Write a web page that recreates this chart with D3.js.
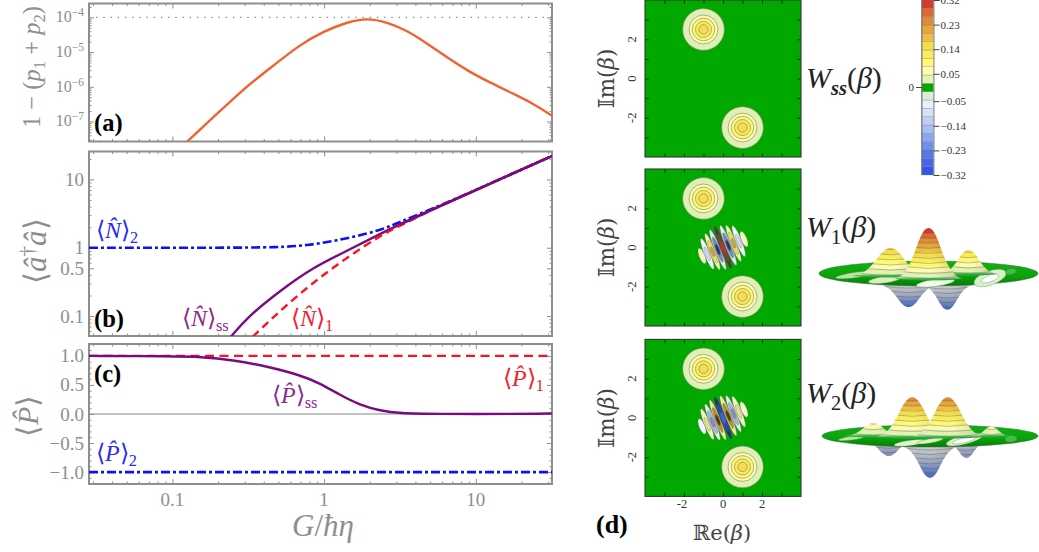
<!DOCTYPE html>
<html><head><meta charset="utf-8">
<script src="https://cdn.jsdelivr.net/npm/d3@7/dist/d3.min.js"></script>
<style>
html,body{margin:0;padding:0;background:#fff}
svg{display:block}
text{font-family:"Liberation Serif",serif}
</style></head><body>
<svg id="c" width="1039" height="552"></svg>
<script>
// ---------- data ----------
const aG=[0.125,0.191,0.297,0.421,0.695,0.985,1.418,1.92,2.60,3.52,4.78,6.47,8.77,12.4,17.6,23.9,31.8];
const aV=[2.6e-8,1.47e-7,8.9e-7,2.94e-6,1.66e-5,3.9e-5,7.3e-5,9.6e-5,7.3e-5,4.2e-5,1.77e-5,6.98e-6,2.94e-6,1.32e-6,6.35e-7,3.27e-7,1.47e-7];
const bSsG=[0.244,0.311,0.513,0.846,1.418,2.34,3.17,5,10,31.8];
const bSsV=[0.0502,0.096,0.2356,0.516,0.9,1.6,2.2,3.5,7,22];
const b1G=[0.34,0.513,0.846,1.418,2.34,3.17,5,10,31.8];
const b1V=[0.0502,0.12,0.311,0.722,1.5,2.1,3.5,7,22];
const b2G=[0.0282,0.2,0.513,0.772,1.15,2.34,3.17,5,10,31.8];
const b2V=[1,1,1.01,1.09,1.236,1.77,2.4,3.6,7,22];
const cSsG=[0.0282,0.1,0.152,0.251,0.421,0.695,0.94,1.275,1.726,2.34,3.17,5.23,20,31.8];
const cSsV=[1,0.995,0.985,0.93,0.82,0.67,0.53,0.327,0.155,0.056,0.012,0,0,0.01];
const xMajor=[0.1,1,10];
const xMinor=[0.03,0.04,0.05,0.06,0.07,0.08,0.09,0.2,0.3,0.4,0.5,0.6,0.7,0.8,0.9,2,3,4,5,6,7,8,9,20,30];
const aMajor=[1e-7,1e-6,1e-5,1e-4];
const aExp=["−7","−6","−5","−4"];
const aMinor=[3e-8,4e-8,5e-8,6e-8,7e-8,8e-8,9e-8,2e-7,3e-7,4e-7,5e-7,6e-7,7e-7,8e-7,9e-7,2e-6,3e-6,4e-6,5e-6,6e-6,7e-6,8e-6,9e-6,2e-5,3e-5,4e-5,5e-5,6e-5,7e-5,8e-5,9e-5,2e-4];
const bMajor=[0.1,0.5,1,10];
const bMinor=[0.06,0.07,0.08,0.09,0.2,0.3,0.4,0.6,0.7,0.8,0.9,2,3,4,5,6,7,8,9,20];
const cMajor=[-1,-0.5,0,0.5,1];
const cMinor=[-1.2,-1.1,-0.9,-0.8,-0.7,-0.6,-0.4,-0.3,-0.2,-0.1,0.1,0.2,0.3,0.4,0.6,0.7,0.8,0.9,1.1,1.2];
const cbColors=["#3355ee","#4468e8","#5578e8","#7090ec","#8ca6f2","#a8bcf5","#c0cdf5","#d8e0f8","#e8eefc","#d8eed8","#00a800","#e3f3b0","#fffcb0","#fefa70","#f9ee5a","#f5dd50","#eec040","#e6a53a","#e08a35","#d96a30","#d63a2a"];
const cbTicks=[-0.32,-0.23,-0.14,-0.05,0.05,0.14,0.23,0.32];
const betaTicks=[-3,-2,-1,0,1,2,3];
const betaLabels=[-2,0,2];
const blobCenters=[[-1,2.5],[1,-2.5]];
const blobRadii=[1.07,0.74,0.58,0.41,0.24];
const blobColors=["#dff0b4","#fffcb4","#fdf87a","#f9ec5c","#f6dc50"];
const stripeIndex=[-4,-3,-2,-1,0,1,2,3,4];
const stripeLen=[0.42,0.85,1.0,1.1,1.17,1.1,1.0,0.85,0.42];
const stripeLayers1=[["#f4f7c0"],["#f4f6ff","#cdd8f4"],["#fdf6b0","#eedd60","#c8a838"],["#e4e9f6","#7088c8","#26346e"],["#4a3c3c","#6e4a20","#d02a1c"],["#e4e9f6","#7088c8","#26346e"],["#fdf6b0","#eedd60","#c8a838"],["#f4f6ff","#cdd8f4"],["#f4f7c0"]];
const stripeLayers2=[["#f4f6ff"],["#f4f6c0","#e8e090"],["#e8edf8","#a4b6e0","#7a90c8"],["#f8e8a0","#b89028","#503818"],["#26346e","#2048b8","#3a66e0"],["#f8e8a0","#b89028","#503818"],["#e8edf8","#a4b6e0","#7a90c8"],["#f4f6c0","#e8e090"],["#f4f6d0"]];
const bellU=[-1,-0.8,-0.6,-0.42,-0.25,-0.1,0,0.1,0.25,0.42,0.6,0.8,1];
const bellH=[0,0.07,0.24,0.5,0.8,0.97,1,0.97,0.8,0.5,0.24,0.07,0];
// [position, value, half width, base depth]
const w1Down=[[-0.73,-0.144,1.13,3.4],[0.69,-0.156,0.95,3.7]];
const w1Up=[[-1.39,0.175,1.39,0.8],[1.46,0.15,1.04,0.16],[0,0.32,1.25,1.8]];
const w2Down=[[-1.53,-0.1,1.0,1.45],[1.35,-0.1,0.75,2.2],[0,-0.2,1.08,3.6]];
const w2Up=[[-2.1,0.08,1.05,0],[2.27,0.06,0.7,0],[-0.66,0.25,1.35,0.4],[0.66,0.25,1.35,0.4]];
// [position, depth, half length, half width, rotation, fill]
const w1Patches=[[2.25,1.45,0.62,0.26,-20,"#d8efc8"],[2.25,1.6,0.33,0.12,-20,"#ffffff"],[3.0,-0.6,0.2,0.11,-10,"#45bd45"],[-2.6,0.4,0.8,0.1,-8,"#b9e5a0"],[-1.6,2,0.6,0.12,-8,"#d9efc0"],[0.25,3,0.7,0.13,-8,"#f2fae8"]];
const w2Patches=[[1.28,1.3,0.7,0.17,-14,"#d8efc8"],[1.28,1.5,0.45,0.09,-14,"#ffffff"],[3,1,0.22,0.12,-5,"#45bd45"],[-0.73,2.5,0.6,0.1,-8,"#e4f4d0"],[-2.9,0.8,0.5,0.07,-8,"#b9e5a0"],[0,1.8,0.5,0.08,-10,"#d9efc0"]];

// ---------- setup ----------
const svg=d3.select("#c");
const defs=svg.append("defs");
const GRAY="#8e8e8e", X0=89, X1=552;
const x=d3.scaleLog().domain([0.0282,31.8]).range([X0,X1]);
const ya=d3.scaleLog().domain([10**-7.578,10**-3.6]).range([141.5,3.5]);
const yb=d3.scaleLog().domain([10**-1.292,10**1.409]).range([336,151.5]);
const yc=d3.scaleLinear().domain([-1.205,1.205]).range([484,344]);

function panel(id,y,major,minor,labels){
  const g=svg.append("g");
  defs.append("clipPath").attr("id",id).append("rect")
    .attr("x",X0).attr("y",y.range()[1]).attr("width",X1-X0).attr("height",y.range()[0]-y.range()[1]);
  const tk=[[d3.axisBottom,x,y.range()[0],0,xMajor,5],[d3.axisBottom,x,y.range()[0],0,xMinor,2.5],
            [d3.axisTop,x,y.range()[1],0,xMajor,5],[d3.axisTop,x,y.range()[1],0,xMinor,2.5],
            [d3.axisLeft,y,0,X0,major,5],[d3.axisLeft,y,0,X0,minor,2.5],
            [d3.axisRight,y,0,X1,major,5],[d3.axisRight,y,0,X1,minor,2.5]];
  tk.forEach(([ax,s,ty,tx,vals,len])=>{
    const a=g.append("g").attr("transform",`translate(${tx},${ty})`)
      .call(ax(s).tickValues(vals).tickSize(-len).tickFormat(""));
    a.select(".domain").remove();
    a.selectAll("line").attr("stroke",GRAY).attr("stroke-width",1);
    a.selectAll("text").remove();
  });
  g.append("rect").attr("x",X0).attr("y",y.range()[1]).attr("width",X1-X0).attr("height",y.range()[0]-y.range()[1])
    .attr("fill","none").attr("stroke",GRAY).attr("stroke-width",2);
  return g;
}
function drawLine(clip,xs,ys,yS,color,w,dash,curve){
  const l=d3.line().x(d=>x(d[0])).y(d=>yS(d[1])).curve(curve||d3.curveBasis);
  svg.append("path").attr("clip-path",`url(#${clip})`).attr("d",l(xs.map((v,i)=>[v,ys[i]])))
    .attr("fill","none").attr("stroke",color).attr("stroke-width",w).attr("stroke-dasharray",dash||null);
}
function label(px,py,size,color,parts,rot,anchor){
  const t=svg.append("text").attr("x",px).attr("y",py).attr("font-size",size).attr("fill",color)
    .attr("text-anchor",anchor||"start");
  if(rot) t.attr("transform",`rotate(${rot} ${px} ${py})`);
  let shift=0;
  parts.forEach(p=>{
    const ts=t.append("tspan").text(p.t);
    if(p.i) ts.attr("font-style","italic");
    if(p.b) ts.attr("font-weight","bold");
    if(p.sub){ts.attr("font-size",size*0.68).attr("dy",(size*0.22)-shift);shift=size*0.22;}
    else if(p.sup){ts.attr("font-size",size*0.68).attr("dy",(-size*0.4)-shift);shift=-size*0.4;}
    else if(shift){ts.attr("dy",-shift);shift=0;}
  });
  return t;
}

// ---------- panel a ----------
svg.append("line").attr("x1",X0).attr("x2",X1).attr("y1",ya(1e-4)).attr("y2",ya(1e-4))
  .attr("stroke","#777").attr("stroke-width",1.2).attr("stroke-dasharray","1.2 6");
panel("ca",ya,aMajor,aMinor);
drawLine("ca",aG,aV,ya,"#f0622f",2.4);
aMajor.forEach((v,i)=>{
  const t=svg.append("text").attr("x",84).attr("y",ya(v)+5).attr("text-anchor","end").attr("font-size",16).attr("fill",GRAY);
  t.append("tspan").text("10");
  t.append("tspan").text(aExp[i]).attr("font-size",11.5).attr("dy",-6);
});
label(40,128,24.5,GRAY,[{t:"1 − ("},{t:"p",i:1},{t:"1",sub:1},{t:" + "},{t:"p",i:1},{t:"2",sub:1},{t:")"}],-90);

// ---------- panel b ----------
panel("cb",yb,bMajor,bMinor);
drawLine("cb",b2G,b2V,yb,"#1010ee",2.6,"9 3 3 3");
drawLine("cb",bSsG,bSsV,yb,"#7a0a82",2.4);
drawLine("cb",b1G,b1V,yb,"#ff1020",2.4,"8 5");
drawLine("cb",bSsG.slice(6),bSsV.slice(6),yb,"#7a0a82",2.4);
[["10",10],["1",1],["0.5",0.5],["0.1",0.1]].forEach(([s,v])=>{
  svg.append("text").attr("x",84).attr("y",yb(v)+6.5).attr("text-anchor","end").attr("font-size",19).attr("fill",GRAY).text(s);
});
label(46,284,31,GRAY,[{t:"⟨"},{t:"a\u0302",i:1},{t:"†",sup:1},{t:"a\u0302",i:1},{t:"⟩"}],-90,"start");

// ---------- panel c ----------
svg.append("line").attr("x1",X0).attr("x2",X1).attr("y1",yc(0)).attr("y2",yc(0)).attr("stroke","#888").attr("stroke-width",1.2);
panel("cc",yc,cMajor,cMinor);
drawLine("cc",[0.0282,31.8],[1,1],yc,"#ff1020",2.4,"9 5.5",d3.curveLinear);
drawLine("cc",[0.0282,31.8],[-1,-1],yc,"#1010ee",2.6,"9 3 3 3",d3.curveLinear);
drawLine("cc",cSsG,cSsV,yc,"#7a0a82",2.4);
cMajor.slice().forEach(v=>{
  svg.append("text").attr("x",84).attr("y",yc(v)+6.5).attr("text-anchor","end").attr("font-size",19).attr("fill",GRAY)
    .text(d3.format(".1f")(v).replace("-","−"));
});
[["0.1",0.1],["1",1],["10",10]].forEach(([s,v])=>{
  svg.append("text").attr("x",x(v)).attr("y",506).attr("text-anchor","middle").attr("font-size",19).attr("fill",GRAY).text(s);
});
label(38,437,30,GRAY,[{t:"⟨"},{t:"P\u0302",i:1},{t:"⟩"}],-90);
label(292,536,31,GRAY,[{t:"G",i:1},{t:"/"},{t:"ħη",i:1}]);

// series labels
const BL="#2a2af0",RD="#f5202e",PU="#8a2a90";
label(96,238,24,BL,[{t:"⟨"},{t:"N\u0302",i:1},{t:"⟩"},{t:"2",sub:1}]);
label(182,326,24,PU,[{t:"⟨"},{t:"N\u0302",i:1},{t:"⟩"},{t:"ss",sub:1}]);
label(291,326,24,RD,[{t:"⟨"},{t:"N\u0302",i:1},{t:"⟩"},{t:"1",sub:1}]);
label(272,403,24,PU,[{t:"⟨"},{t:"P\u0302",i:1},{t:"⟩"},{t:"ss",sub:1}]);
label(503,386,24,RD,[{t:"⟨"},{t:"P\u0302",i:1},{t:"⟩"},{t:"1",sub:1}]);
label(96,461,24,BL,[{t:"⟨"},{t:"P\u0302",i:1},{t:"⟩"},{t:"2",sub:1}]);
[["(a)",94,131],["(b)",94,326.5],["(c)",94,381.5]].forEach(([s,a,b])=>{
  svg.append("text").attr("x",a).attr("y",b).attr("font-size",24.5).attr("font-weight","bold").attr("fill","#000").text(s);
});
svg.append("text").attr("x",596).attr("y",533).attr("font-size",26).attr("font-weight","bold").attr("fill","#000").text("(d)");

// ---------- Wigner contour panels ----------
const bx=d3.scaleLinear().domain([-4,4]).range([645,801]);
function wigner(top,layers,showX){
  const by=d3.scaleLinear().domain([-4,4]).range([top+157,top]);
  const g=svg.append("g");
  const cid="w"+Math.round(top);
  defs.append("clipPath").attr("id",cid).append("rect").attr("x",645).attr("y",top).attr("width",156).attr("height",157);
  g.append("rect").attr("x",645).attr("y",top).attr("width",156).attr("height",157).attr("fill","#00a800");
  const inner=g.append("g").attr("clip-path",`url(#${cid})`);
  blobCenters.forEach(c=>{
    blobRadii.forEach((r,i)=>{
      inner.append("circle").attr("cx",bx(c[0])).attr("cy",by(c[1])).attr("r",bx(r)-bx(0))
        .attr("fill",blobColors[i]).attr("stroke","#7c7c66").attr("stroke-width",0.6);
    });
  });
  const ux=bx(1)-bx(0), ang=21.8, gap=0.29;
  stripeIndex.forEach((k,i)=>{
    const cx=bx(k*gap*0.928), cy=by(k*gap*0.371);
    layers[i].forEach((col,j)=>{
      const n=layers[i].length, f=1-j/n*1.1;
      inner.append("ellipse")
        .attr("transform",`translate(${cx},${cy}) rotate(${-ang})`)
        .attr("rx",ux*0.148*(0.35+0.65*f)).attr("ry",ux*stripeLen[i]*f)
        .attr("fill",col).attr("stroke","#6b6b60").attr("stroke-width",0.3);
    });
  });
  const mk=[[d3.axisBottom,bx,top+157,0],[d3.axisTop,bx,top,0],[d3.axisLeft,by,0,645],[d3.axisRight,by,0,801]];
  mk.forEach(([ax,s,ty,tx])=>{
    const a=g.append("g").attr("transform",`translate(${tx},${ty})`).call(ax(s).tickValues(betaTicks).tickSize(-4).tickFormat(""));
    a.select(".domain").remove();
    a.selectAll("line").attr("stroke","#222").attr("stroke-width",0.8);
    a.selectAll("text").remove();
  });
  g.append("rect").attr("x",645).attr("y",top).attr("width",156).attr("height",157).attr("fill","none").attr("stroke","#333").attr("stroke-width",1.1);
  betaLabels.forEach(v=>{
    const yy=by(v);
    g.append("text").attr("transform",`translate(636,${yy}) rotate(-90)`).attr("text-anchor","middle")
      .attr("font-size",12.5).attr("fill","#333").text(v);
    if(showX) g.append("text").attr("x",bx(v)-(v<0?2:0)).attr("y",top+169).attr("text-anchor","middle").attr("font-size",12.5).attr("fill","#333").text(v);
  });
  label(614,by(0),24,"#444",[{t:"𝕀"},{t:"m("},{t:"β",i:1},{t:")"}],-90,"middle").style("font-family","'DejaVu Serif','Liberation Serif',serif").attr("font-size",21.5);
}
wigner(0,stripeLayers1.map(()=>[]),false);
wigner(169,stripeLayers1,false);
wigner(339.4,stripeLayers2,true);
const re=label(722,540,21,"#444",[{t:"ℝ"},{t:"e("},{t:"β",i:1},{t:")"}],0,"middle");
re.style("font-family","'DejaVu Serif','Liberation Serif',serif");

// W labels
label(806,88,30,"#222",[{t:"W",i:1},{t:"ss",i:1,b:1,sub:1},{t:"("},{t:"β",i:1},{t:")"}]);
label(806,237,30,"#222",[{t:"W",i:1},{t:"1",sub:1},{t:"("},{t:"β",i:1},{t:")"}]);
label(806,403,30,"#222",[{t:"W",i:1},{t:"2",sub:1},{t:"("},{t:"β",i:1},{t:")"}]);

// ---------- colour bar ----------
const cby=d3.scaleLinear().domain([-0.32,0.32]).range([175,0]);
const cellStep=0.64/21;
cbColors.forEach((c,i)=>{
  const lo=-0.32+i*cellStep;
  svg.append("rect").attr("x",922).attr("width",11.5).attr("y",cby(lo+cellStep)).attr("height",cby(lo)-cby(lo+cellStep))
    .attr("fill",c).attr("stroke","#777").attr("stroke-opacity",0.55).attr("stroke-width",0.5);
});
svg.append("line").attr("x1",921.8).attr("x2",921.8).attr("y1",0).attr("y2",175).attr("stroke","#666").attr("stroke-width",1);
const cbAxis=svg.append("g").attr("transform","translate(933.5,0)")
  .call(d3.axisRight(cby).tickValues(cbTicks).tickSize(6).tickFormat(d=>d3.format(".2f")(d).replace("-","−")));
cbAxis.select(".domain").attr("stroke","#888");
cbAxis.selectAll("line").attr("stroke","#444");
cbAxis.selectAll("text").attr("font-family","Liberation Serif").attr("font-size",11).attr("fill","#333").attr("x",7);
svg.append("line").attr("x1",916).attr("x2",922).attr("y1",cby(0)).attr("y2",cby(0)).attr("stroke","#444");
svg.append("text").attr("x",914).attr("y",cby(0)+3.5).attr("text-anchor","end").attr("font-size",11).attr("fill","#333").text("0");

// ---------- 3D surfaces ----------
const colorOf=d3.scaleQuantize().domain([-0.32,0.32]).range(cbColors);
const zpx=d3.scaleLinear().domain([0,0.32]).range([0,51]);
let gid=0;
function surface(cx,cy,dy,halfW,halfH,down,up,patches){
  const sx=d3.scaleLinear().domain([-4,4]).range([cx-halfW,cx+halfW]);
  const sd=d3.scaleLinear().domain([-4,4]).range([cy-4*dy,cy+4*dy]);
  const upHalfH=bellH.slice(0,7), upHalfU=bellU.slice(0,7);
  const uOfH=d3.scaleLinear().domain(upHalfH).range(upHalfU);
  function bump(b,isUp){
    const [pos,val,w,dep]=b;
    const base=sd(dep), sign=isUp?-1:1, H=zpx(Math.abs(val));
    const pts=bellU.map((u,i)=>[sx(pos+u*w),base+sign*H*bellH[i]]);
    const id="g"+(gid++);
    const gr=defs.append("linearGradient").attr("id",id).attr("gradientUnits","userSpaceOnUse")
      .attr("x1",0).attr("x2",0).attr("y1",base).attr("y2",base+sign*H);
    if(isUp){
      gr.append("stop").attr("offset",0).attr("stop-color","#2fb02f");
      const s=cellStep, m=Math.abs(val);
      gr.append("stop").attr("offset",Math.min(0.5,0.45*s/m)).attr("stop-color","#f4fbe8");
      for(let k=0;(k+0.5)*s<m;k++){
        const o0=Math.min(1,(k+0.5)*s/m), o1=Math.min(1,(k+1.5)*s/m);
        const c=colorOf(Math.min(0.319,(k+1)*s));
        gr.append("stop").attr("offset",o0).attr("stop-color",c);
        gr.append("stop").attr("offset",o1).attr("stop-color",c);
      }
    } else {
      gr.append("stop").attr("offset",0).attr("stop-color","#d0d0d0");
      gr.append("stop").attr("offset",0.45).attr("stop-color","#a4acc0");
      gr.append("stop").attr("offset",1).attr("stop-color",Math.abs(val)>0.12?"#3d62c4":"#7d8cb4");
    }
    const line=d3.line().curve(d3.curveCatmullRom);
    const x0=pts[0][0], x1=pts[pts.length-1][0];
    const d=line(pts)+`Q${(x0+x1)/2} ${base+(isUp?3:-6)} ${x0} ${base}Z`;
    svg.append("path").attr("d",d).attr("fill",`url(#${id})`);
    const sid="s"+id;
    const sh=defs.append("linearGradient").attr("id",sid).attr("gradientUnits","userSpaceOnUse")
      .attr("x1",x0).attr("x2",x1).attr("y1",0).attr("y2",0);
    sh.append("stop").attr("offset",0).attr("stop-color","#000").attr("stop-opacity",0.02);
    sh.append("stop").attr("offset",0.55).attr("stop-color","#000").attr("stop-opacity",0);
    sh.append("stop").attr("offset",1).attr("stop-color","#000").attr("stop-opacity",0.14);
    svg.append("path").attr("d",d).attr("fill",`url(#${sid})`);
    const m=Math.abs(val);
    for(let k=0;(k+0.5)*cellStep<m;k++){
      const h=(k+0.5)*cellStep/m, u=Math.abs(uOfH(h));
      const yy=base+sign*H*h, xa=sx(pos-u*w), xb=sx(pos+u*w);
      svg.append("path").attr("d",`M${xa} ${yy}Q${(xa+xb)/2} ${yy+3*(1-h)+0.6} ${xb} ${yy}`)
        .attr("fill","none").attr("stroke","#555").attr("stroke-opacity",0.65).attr("stroke-width",0.6);
    }
  }
  down.forEach(b=>bump(b,false));
  const dg="d"+(gid++);
  const gr=defs.append("linearGradient").attr("id",dg).attr("x1",0).attr("x2",0).attr("y1",0).attr("y2",1);
  gr.append("stop").attr("offset",0).attr("stop-color","#12b012");
  gr.append("stop").attr("offset",0.6).attr("stop-color","#0aa40a");
  gr.append("stop").attr("offset",1).attr("stop-color","#057c05");
  svg.append("ellipse").attr("cx",cx).attr("cy",cy).attr("rx",halfW).attr("ry",dy*4)
    .attr("fill",`url(#${dg})`).attr("stroke","#3c6a3c").attr("stroke-width",0.5);
  patches.forEach(([p,dep,l,w,rot,f])=>{
    svg.append("ellipse").attr("transform",`translate(${sx(p)},${sd(dep)}) rotate(${rot})`)
      .attr("rx",sx(l)-sx(0)).attr("ry",sx(w)-sx(0)).attr("fill",f).attr("stroke","#4a7a4a").attr("stroke-width",0.3);
  });
  up.forEach(b=>bump(b,true));
}
surface(928.5,273.5,3.1,109.5,12.5,w1Down,w1Up,w1Patches);
surface(930,436,2.75,108,11,w2Down,w2Up,w2Patches);
</script>
</body></html>
